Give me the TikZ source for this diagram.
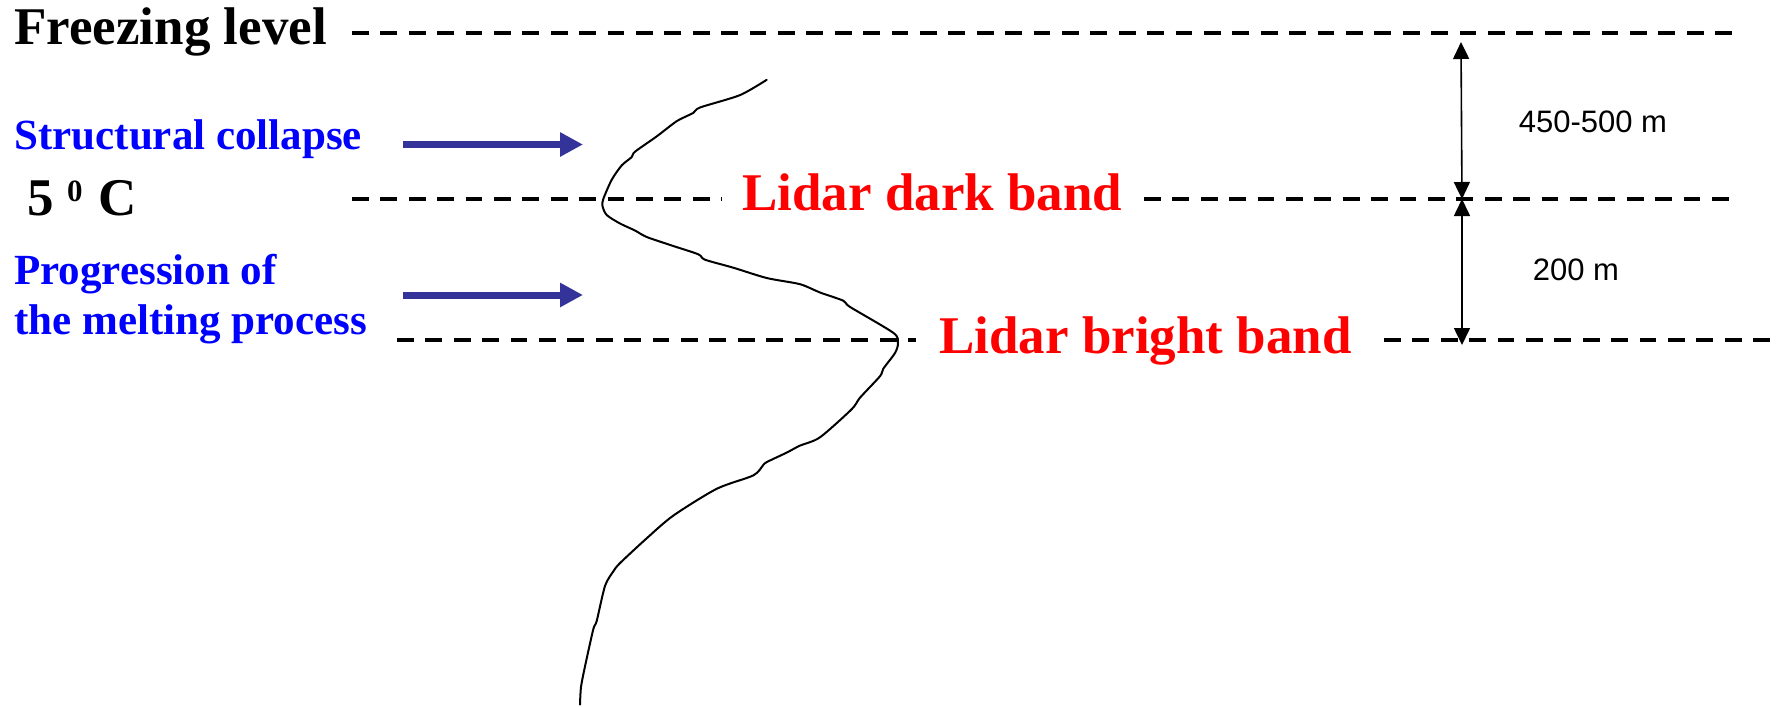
\documentclass[tikz,border=0pt]{standalone}
\usepackage{fontspec}
\setmainfont{Liberation Serif}
\newfontfamily\labelsans{Liberation Sans}
\usetikzlibrary{arrows.meta}
\definecolor{arrowblue}{RGB}{51,51,153}
\begin{document}
\begin{tikzpicture}[x=0.5pt,y=-0.5pt,
  lvl/.style={draw=black, line width=2pt, dash pattern=on 8.35pt off 5.85pt},
  big/.style={font=\fontsize{26.5}{30}\selectfont\bfseries, inner sep=0pt, anchor=base west},
  bluetxt/.style={font=\fontsize{21.5}{24}\selectfont\bfseries, text=blue, inner sep=0pt, anchor=base west},
  redtxt/.style={big, text=red},
  meas/.style={line width=0.8pt, {Triangle[length=8.5pt,width=8pt]}-{Triangle[length=8.5pt,width=8pt]}},
  bigarrow/.style={draw=arrowblue, line width=3.5pt, -{Triangle[length=11.5pt,width=11.5pt]}},
  sanslbl/.style={font=\labelsans\fontsize{15.5}{18}\selectfont, inner sep=0pt},
  profile/.style={line width=1pt, line join=round, line cap=round},
]
\useasboundingbox (0,0) rectangle (1785,707);

% texts
\node[big] (freez) at (14,44) {Freezing level};
\node[bluetxt] (struct) at (14,149) {Structural collapse};
\node[big] (five) at (27,215) {5 \raisebox{7pt}{\fontsize{15.5}{15.5}\selectfont 0}\kern1.5pt\ C};
\node[bluetxt] (prog1) at (14,284) {Progression of};
\node[bluetxt] (prog2) at (14,334) {the melting process};
\node[redtxt] (dark) at (742,210) {Lidar dark band};
\node[redtxt] (bright) at (939,353) {Lidar bright band};
\node[sanslbl] (d450) at (1593,122) {450-500 m};
\node[sanslbl] (d200) at (1576,270) {200 m};

% level lines
\coordinate (fzA) at (352,33);
\coordinate (fzB) at (1735,33);
\coordinate (dkA) at (352,199);
\coordinate (dkB) at (722,199);
\coordinate (dkC) at (1144,199);
\coordinate (dkD) at (1735,199);
\coordinate (brA) at (397,340);
\coordinate (brB) at (916,340);
\coordinate (brC) at (1384,340);
\coordinate (brD) at (1780,340);
\draw[lvl] (fzA) -- (fzB);
\draw[lvl] (dkA) -- (dkB);
\draw[lvl] (dkC) -- (dkD);
\draw[lvl] (brA) -- (brB);
\draw[lvl] (brC) -- (brD);

% measurement arrows
\coordinate (mTop) at (1461,42);
\coordinate (mMid) at (1462,199);
\coordinate (mBot) at (1462,345);
\draw[meas] (mTop) -- (mMid);
\draw[meas] (mMid) -- (mBot);

% blue arrows
\coordinate (a1s) at (403,144.5);
\coordinate (a1e) at (583,144.5);
\coordinate (a2s) at (403,295);
\coordinate (a2e) at (583,295);
\draw[bigarrow] (a1s) -- (a1e);
\draw[bigarrow] (a2s) -- (a2e);

% lidar profile
\draw[profile] plot[smooth, tension=0.45] coordinates {
(766.7,79.8) (740,95.1) (700,107.5) (693.3,112.9) (676.7,121.2) (656.7,136.4)
(635,151.7) (631.7,157.1) (621.7,165.4) (611.7,179.8) (603.3,199) (602.5,206)
(606.7,215) (620,223.5) (635,230.5) (646.7,237) (673.3,246) (698.3,254.3)
(705,259.7) (733.3,267.7) (766.7,278) (800,284.2) (820,292.5) (843.3,300.7)
(850,306.9) (893.3,332.8) (898,343) (895,353) (883.3,368.7) (880,376.2)
(860,397.7) (851.7,409.2) (820,437.3) (800,445.6) (786.7,452.6) (766.7,462.1)
(763.3,465) (753.3,475.4) (716.7,488.8) (673.3,515.6) (646.7,538.3) (620,563.1)
(613.3,571.4) (605,585.9) (596.7,621) (593.3,629.2) (585,666.4) (581,687.1) (580,704.6)};
\end{tikzpicture}
\end{document}
